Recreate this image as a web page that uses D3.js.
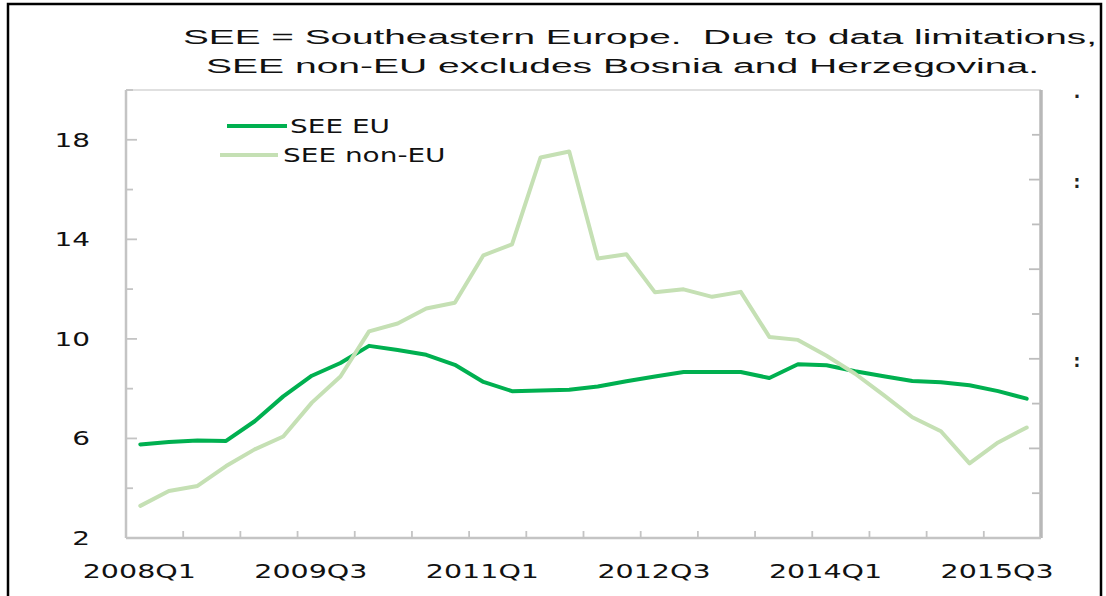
<!DOCTYPE html>
<html>
<head>
<meta charset="utf-8">
<script src="https://cdn.jsdelivr.net/npm/d3@7"></script>
<style>
  html, body { margin: 0; padding: 0; background: #ffffff; }
  svg { display: block; }
</style>
</head>
<body>
<script>
// ---------------- DATA ----------------
const quarters = [
  "2008Q1","2008Q2","2008Q3","2008Q4",
  "2009Q1","2009Q2","2009Q3","2009Q4",
  "2010Q1","2010Q2","2010Q3","2010Q4",
  "2011Q1","2011Q2","2011Q3","2011Q4",
  "2012Q1","2012Q2","2012Q3","2012Q4",
  "2013Q1","2013Q2","2013Q3","2013Q4",
  "2014Q1","2014Q2","2014Q3","2014Q4",
  "2015Q1","2015Q2","2015Q3","2015Q4"
];
const seeEU = [
  5.76, 5.86, 5.92, 5.90,
  6.69, 7.69, 8.52, 9.03,
  9.72, 9.55, 9.36, 8.96,
  8.27, 7.90, 7.93, 7.96,
  8.09, 8.30, 8.49, 8.67,
  8.67, 8.67, 8.43, 8.98,
  8.94, 8.70, 8.50, 8.31,
  8.26, 8.14, 7.90, 7.60
];
const seeNonEU = [
  3.29, 3.89, 4.09, 4.89,
  5.56, 6.08, 7.44, 8.49,
  10.30, 10.62, 11.22, 11.45,
  13.36, 13.80, 17.29, 17.53,
  13.23, 13.40, 11.87, 11.99,
  11.69, 11.89, 10.08, 9.96,
  9.32, 8.60, 7.74, 6.85,
  6.29, 5.00, 5.84, 6.44
];
const seriesNames = ["SEE EU", "SEE non-EU"];
const xTickLabels = ["2008Q1","2009Q3","2011Q1","2012Q3","2014Q1","2015Q3"];
const yTickValues = [2,4,6,8,10,12,14,16,18,20];
const yTickLabels = [2,6,10,14,18];
const rightTickValues = [0,1,2,3,4,5,6,7,8,9,10];
const titleLines = [
  "SEE = Southeastern Europe.  Due to data limitations,",
  "SEE non-EU excludes Bosnia and Herzegovina."
];

// ---------------- LAYOUT ----------------
const W = 1106, H = 596;
const plot = { left: 126, right: 1041, top: 90, bottom: 538 };
const colEU = "#00b050", colNon = "#c5e0b4";
const STRETCH = 1.47;

const svg = d3.select("body").append("svg")
  .attr("width", W).attr("height", H);

function stretch(sel, k) {
  sel.each(function () {
    const w = this.getComputedTextLength();
    d3.select(this).attr("textLength", w * k).attr("lengthAdjust", "spacingAndGlyphs");
  });
}

const x = d3.scalePoint().domain(quarters).range([plot.left, plot.right]).padding(0.5);
const step = x.step();
const y = d3.scaleLinear().domain([2, 20]).range([plot.bottom, plot.top]);
const yR = d3.scaleLinear().domain([0, 10]).range([plot.bottom, plot.top]);

// outer frame
svg.append("rect")
  .attr("x", 8).attr("y", 4).attr("width", 1093).attr("height", 640)
  .attr("fill", "none").attr("stroke", "#000").attr("stroke-width", 2.5);

// title
const titleWidths = [914, 833];
const titleX = [183, 206];
const titleY = [44, 73];
svg.selectAll("text.title").data(titleLines).join("text")
  .attr("class", "title")
  .attr("x", (d, i) => titleX[i]).attr("y", (d, i) => titleY[i])
  .attr("font-family", "Liberation Sans, Arial, sans-serif")
  .attr("font-size", 20)
  .attr("fill", "#111")
  .style("white-space", "pre")
  .text(d => d)
  .attr("textLength", (d, i) => titleWidths[i])
  .attr("lengthAdjust", "spacingAndGlyphs");

// plot box top border
svg.append("line")
  .attr("x1", plot.left).attr("x2", plot.right)
  .attr("y1", plot.top).attr("y2", plot.top)
  .attr("stroke", "#d6d6d6").attr("stroke-width", 1.5);

// left axis
svg.append("line")
  .attr("x1", plot.left).attr("x2", plot.left)
  .attr("y1", plot.top).attr("y2", plot.bottom)
  .attr("stroke", "#c4c4c4").attr("stroke-width", 2.5);
svg.selectAll("line.ytick").data(yTickValues).join("line")
  .attr("class", "ytick")
  .attr("x1", plot.left)
  .attr("x2", d => plot.left + (yTickLabels.includes(d) ? 11 : 7))
  .attr("y1", d => y(d)).attr("y2", d => y(d))
  .attr("stroke", "#c4c4c4").attr("stroke-width", 1.8);
svg.selectAll("text.ylab").data(yTickLabels).join("text")
  .attr("class", "ylab")
  .attr("x", 90).attr("y", d => y(d))
  .attr("dy", "0.36em")
  .attr("text-anchor", "end")
  .attr("font-family", "DejaVu Sans, Verdana, sans-serif")
  .attr("font-size", 19)
  .attr("fill", "#111")
  .text(d => d)
  .call(stretch, STRETCH);

// right axis
svg.append("line")
  .attr("x1", plot.right).attr("x2", plot.right)
  .attr("y1", plot.top).attr("y2", plot.bottom)
  .attr("stroke", "#b8b8b8").attr("stroke-width", 3.5);
svg.selectAll("line.rtick").data(rightTickValues.slice(1, -1)).join("line")
  .attr("class", "rtick")
  .attr("x1", plot.right)
  .attr("x2", d => plot.right - (d % 2 === 0 ? 12 : 9))
  .attr("y1", d => yR(d)).attr("y2", d => yR(d))
  .attr("stroke", "#bdbdbd").attr("stroke-width", 1.8);
// clipped remnants of right-axis labels
svg.selectAll("text.rstub").data([10, 8, 4]).join("text")
  .attr("class", "rstub")
  .attr("x", 1077).attr("y", d => yR(d) + (d === 10 ? 8 : 8))
  .attr("text-anchor", "middle")
  .attr("font-family", "DejaVu Sans, sans-serif")
  .attr("font-size", 17)
  .attr("font-weight", "bold")
  .attr("fill", "#222")
  .text(d => d === 10 ? "." : ":");

// bottom axis
svg.append("line")
  .attr("x1", plot.left).attr("x2", plot.right)
  .attr("y1", plot.bottom).attr("y2", plot.bottom)
  .attr("stroke", "#c4c4c4").attr("stroke-width", 2.5);
const xTickQuarters = quarters.filter((q, i) => i > 0 && i % 2 === 0);
svg.selectAll("line.xtick").data(xTickQuarters).join("line")
  .attr("class", "xtick")
  .attr("x1", d => x(d) - step / 2).attr("x2", d => x(d) - step / 2)
  .attr("y1", plot.bottom).attr("y2", plot.bottom - 7)
  .attr("stroke", "#c4c4c4").attr("stroke-width", 1.8);
svg.selectAll("text.xlab").data(xTickLabels).join("text")
  .attr("class", "xlab")
  .attr("x", d => x(d) - 1).attr("y", 578)
  .attr("text-anchor", "middle")
  .attr("font-family", "DejaVu Sans, Verdana, sans-serif")
  .attr("font-size", 19)
  .attr("fill", "#111")
  .text(d => d)
  .call(stretch, 1.5);

// series lines
const line = d3.line()
  .x((d, i) => x(quarters[i]))
  .y(d => y(d));
svg.append("path").datum(seeEU)
  .attr("d", line)
  .attr("fill", "none").attr("stroke", colEU)
  .attr("stroke-width", 4).attr("stroke-linejoin", "round").attr("stroke-linecap", "round");
svg.append("path").datum(seeNonEU)
  .attr("d", line)
  .attr("fill", "none").attr("stroke", colNon)
  .attr("stroke-width", 4).attr("stroke-linejoin", "round").attr("stroke-linecap", "round");

// legend
const legend = [
  { name: seriesNames[0], color: colEU, x1: 227, x2: 287, y: 126, tx: 290 },
  { name: seriesNames[1], color: colNon, x1: 220, x2: 278, y: 155, tx: 283 }
];
const lg = svg.selectAll("g.leg").data(legend).join("g").attr("class", "leg");
lg.append("line")
  .attr("x1", d => d.x1).attr("x2", d => d.x2)
  .attr("y1", d => d.y).attr("y2", d => d.y)
  .attr("stroke", d => d.color).attr("stroke-width", 4);
lg.append("text")
  .attr("x", d => d.tx).attr("y", d => d.y)
  .attr("dy", "0.36em")
  .attr("font-family", "DejaVu Sans, Verdana, sans-serif")
  .attr("font-size", 19)
  .attr("fill", "#111")
  .text(d => d.name)
  .call(stretch, STRETCH);
</script>
</body>
</html>
